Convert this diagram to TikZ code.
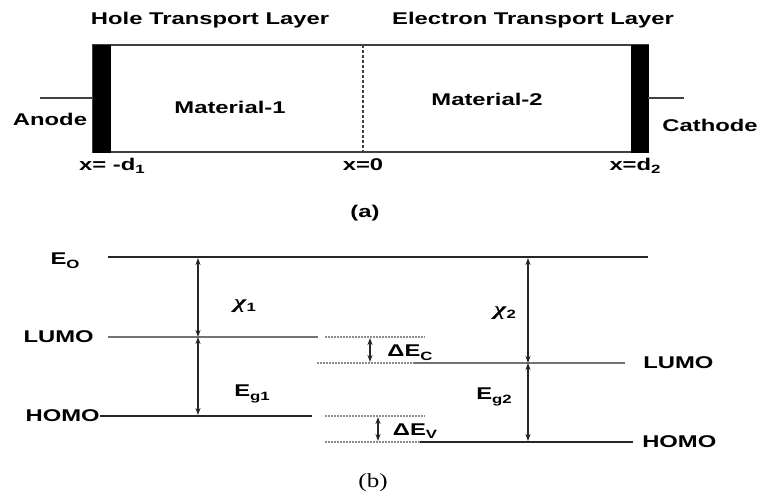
\documentclass[tikz,border=0pt]{standalone}
\usepackage{fontspec}
\setmainfont{Liberation Sans}
\newfontfamily\capfont{Liberation Serif}
\usetikzlibrary{arrows.meta}

\newcommand{\lsub}[1]{\raisebox{-0.4ex}{\fontsize{12}{12}\selectfont #1}}
\newcommand{\chisym}{{\capfont\bfseries\itshape\fontsize{19}{19}\selectfont χ}}

\tikzset{
  lbl/.style={font=\fontsize{17}{19}\selectfont\bfseries, xscale=1.4, inner sep=0pt},
  caplbl/.style={font=\capfont\fontsize{20}{22}\selectfont, xscale=1.25, inner sep=0pt},
  frameline/.style={line width=1.6pt, black!75},
  elec/.style={fill=black, draw=black},
  level/.style={line width=1.8pt, black!85},
  lumo/.style={line width=2.3pt, black!55},
  offset/.style={line width=1.5pt, black!45, dash pattern=on 2pt off 1pt},
  gap/.style={{Stealth[length=7pt,width=5pt]}-{Stealth[length=7pt,width=5pt]}, line width=1.3pt, black!85}
}

\begin{document}
\begin{tikzpicture}[x=1pt,y=-1pt]
    \useasboundingbox (0,0) rectangle (760,495);

    % Device
    \draw[frameline] (93,45) rectangle (648,152);
    \draw[elec] (93,45) rectangle (110,152);
    \draw[elec] (631,45) rectangle (648,152);
    \draw[frameline, line width=1.1pt, dash pattern=on 3pt off 2pt] (363,45) -- (363,152);
    \draw[frameline] (40,98) -- (93,98);
    \draw[frameline] (648,98) -- (684,98);

    % Device labels
    \node[lbl] (htl) at (210,20) {Hole Transport Layer};
    \node[lbl] (etl) at (533,20) {Electron Transport Layer};
    \node[lbl] (mat1) at (230,107) {Material-1};
    \node[lbl] (mat2) at (487,99) {Material-2};
    \node[lbl] (anode) at (50,119) {Anode};
    \node[lbl] (cathode) at (710,125) {Cathode};
    \node[lbl] (xl) at (112,166) {x= -d\lsub{1}};
    \node[lbl] (xm) at (363,165) {x=0};
    \node[lbl] (xr) at (635,166) {x=d\lsub{2}};
    \node[lbl] (capa) at (365,213) {(a)};

    % Energy levels
    \draw[level] (108,257) -- (648,257);
    \draw[lumo] (108,337) -- (318,337);
    \draw[level] (100,416) -- (312,416);
    \draw[lumo] (413,363) -- (625,363);
    \draw[level] (420,442) -- (633,442);

    % Band offsets
    \draw[offset] (325,337) -- (425,337);
    \draw[offset] (317,363) -- (413,363);
    \draw[offset] (325,416) -- (425,416);
    \draw[offset] (325,442) -- (420,442);

    % Gap arrows
    \coordinate (v1) at (198,258);
    \coordinate (l1) at (198,337);
    \coordinate (h1) at (198,415);
    \coordinate (v2) at (528,258);
    \coordinate (l2) at (528,363);
    \coordinate (h2) at (528,441);
    \coordinate (ct) at (370,338);
    \coordinate (cb) at (370,362);
    \coordinate (vt) at (378,417);
    \coordinate (vb) at (378,441);
    \draw[gap] (v1) -- (l1);
    \draw[gap] (l1) -- (h1);
    \draw[gap] (v2) -- (l2);
    \draw[gap] (l2) -- (h2);
    \draw[gap] (ct) -- (cb);
    \draw[gap] (vt) -- (vb);

    % Level labels
    \node[lbl] (evac) at (65,261) {E\lsub{O}};
    \node[lbl, anchor=east] (lumo1) at (94,337) {LUMO};
    \node[lbl, anchor=east] (homo1) at (100,416) {HOMO};
    \node[lbl, anchor=west] (lumo2) at (643,363) {LUMO};
    \node[lbl, anchor=west] (homo2) at (642,442) {HOMO};
    \node[lbl] (chi1) at (245,306) {\chisym\lsub{1}};
    \node[lbl] (chi2) at (505,313) {\chisym\lsub{2}};
    \node[lbl] (eg1) at (252,394) {E\lsub{g1}};
    \node[lbl] (eg2) at (494,397) {E\lsub{g2}};
    \node[lbl] (dec) at (410,353) {ΔE\lsub{C}};
    \node[lbl] (dev) at (415,431) {ΔE\lsub{V}};
    \node[caplbl] (capb) at (373,483) {(b)};
\end{tikzpicture}
\end{document}
